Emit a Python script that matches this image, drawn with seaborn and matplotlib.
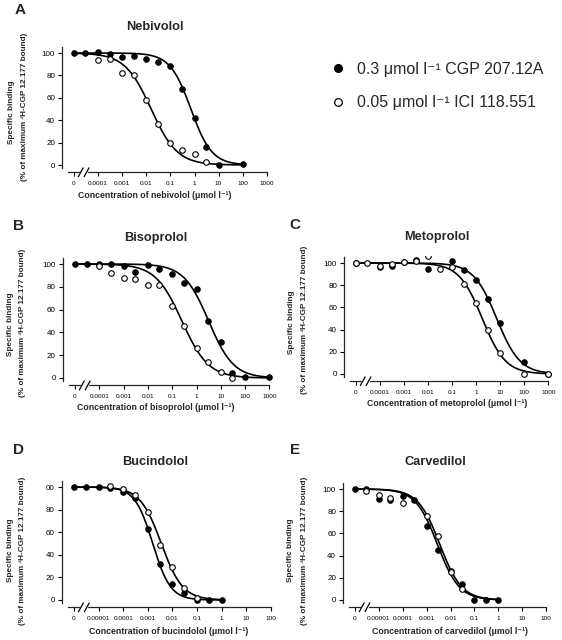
import matplotlib
matplotlib.use("Agg")
import matplotlib.pyplot as plt
import matplotlib.transforms as mtransforms
from matplotlib.lines import Line2D
import seaborn as sns
import pandas as pd
import numpy as np

sns.set_theme(style="ticks")
plt.rcParams['font.family'] = ['Liberation Sans', 'DejaVu Sans']

# ---------------------------------------------------------------------------
# data (concentration in umol/l, binding in %)
# ---------------------------------------------------------------------------
neb_filled_conc = [0, 3e-5, 1e-4, 3e-4, 1e-3, 3e-3, 1e-2, 3e-2, 0.1, 0.3, 1, 3, 10, 100]
neb_filled_val = [100, 100, 101, 99, 96, 97, 95, 92, 88, 68, 42, 16, 0, 0.5]
neb_open_conc = [1e-4, 3e-4, 1e-3, 3e-3, 1e-2, 3e-2, 0.1, 0.3, 1, 3]
neb_open_val = [94, 95, 82, 80, 58, 37, 20, 13, 10, 3]

bis_filled_conc = [0, 3e-5, 1e-4, 3e-4, 1e-3, 3e-3, 1e-2, 3e-2, 0.1, 0.3, 1, 3, 10, 30, 100, 1000]
bis_filled_val = [100, 100, 100, 100, 98, 93, 99, 96, 91, 83, 78, 50, 32, 4, 0.5, 0.5]
bis_open_conc = [1e-4, 3e-4, 1e-3, 3e-3, 1e-2, 3e-2, 0.1, 0.3, 1, 3, 10, 30]
bis_open_val = [98, 92, 88, 87, 82, 82, 63, 46, 26, 14, 5, 0]

met_filled_conc = [0, 1e-4, 3e-4, 1e-3, 3e-3, 1e-2, 0.1, 0.3, 1, 3, 10, 100, 1000]
met_filled_val = [100, 96, 97, 101, 103, 95, 102, 94, 85, 68, 46, 11, 0]
met_open_conc = [0, 3e-5, 1e-4, 3e-4, 1e-3, 3e-3, 1e-2, 3e-2, 0.1, 0.3, 1, 3, 10, 100, 1000]
met_open_val = [100, 100, 97, 99, 101, 102, 106, 95, 96, 81, 64, 40, 19, 0, 0]

buc_filled_conc = [0, 3e-6, 1e-5, 3e-5, 1e-4, 3e-4, 1e-3, 3e-3, 1e-2, 3e-2, 0.1, 0.3, 1]
buc_filled_val = [100, 100, 100, 99, 96, 90, 63, 32, 14, 6, 0, 0, 0]
buc_open_conc = [3e-5, 1e-4, 3e-4, 1e-3, 3e-3, 1e-2, 3e-2, 0.1]
buc_open_val = [101, 98, 93, 78, 49, 29, 11, 2]

car_filled_conc = [0, 3e-6, 1e-5, 3e-5, 1e-4, 3e-4, 1e-3, 3e-3, 1e-2, 3e-2, 0.1, 0.3, 1]
car_filled_val = [100, 100, 91, 90, 94, 90, 67, 45, 26, 14, 0, 0, 0]
car_open_conc = [3e-6, 1e-5, 3e-5, 1e-4, 1e-3, 3e-3, 1e-2, 3e-2]
car_open_val = [98, 95, 92, 87, 76, 58, 25, 10]

# fitted curves: log10 IC50 and Hill slope (filled, open) + last concentration drawn
neb_fit = [(-0.15, 1.0), (-1.8, 0.8)]
bis_fit = [(0.5, 0.85), (-0.6, 0.8)]
met_fit = [(0.85, 0.9), (0.25, 0.9)]
buc_fit = [(-2.8, 1.2), (-2.45, 1.0)]
car_fit = [(-2.55, 0.95), (-2.45, 0.95)]
curve_end = {"neb": 100, "bis": 1000, "met": 1000, "buc": 1, "car": 1}

ticks_a = ["0", "0.0001", "0.001", "0.01", "0.1", "1", "10", "100", "1000"]
ticks_b = ["0", "0.00001", "0.0001", "0.001", "0.01", "0.1", "1", "10", "100"]

legend_labels = ["0.3 \u03bcmol l\u207b\u00b9 CGP 207.12A", "0.05 \u03bcmol l\u207b\u00b9 ICI 118.551"]
ylab1 = "Specific binding"
ylab2 = "(% of maximum \u00b3H-CGP 12.177 bound)"

W, H = 562, 640
fig = plt.figure(figsize=(W / 100, H / 100), dpi=100)
fig.patch.set_facecolor("white")


def fx(x):
    return x / W


def fy(y):
    return 1 - y / H


def to_pos(conc, zero_pos):
    return [np.log10(c) if c > 0 else zero_pos for c in conc]


def make_panel(x0, dec, y0, y100, zero_pos, last, ticklabels, filled, opn, fits, end_conc, ytick_first):
    k = (y0 - y100) / 100.0
    left = x0 - 0.5 * dec
    right = x0 + (last + 0.1 - zero_pos) * dec
    top = y0 - 106 * k
    bottom = y0 + 6.5 * k
    ax = fig.add_axes([fx(left), fy(bottom), fx(right - left), (bottom - top) / H])
    ax.set_xlim(zero_pos - 0.5, last + 0.1)
    ax.set_ylim(-6.5, 106)
    ax.set_facecolor("white")

    # fitted curves
    xs = np.linspace(zero_pos, np.log10(end_conc), 300)
    for (c, h) in fits:
        ys = 100.0 / (1 + 10 ** (h * (xs - c)))
        sns.lineplot(x=xs, y=ys, ax=ax, color="black", linewidth=1.2, zorder=2)

    fdf = pd.DataFrame({"x": to_pos(filled[0], zero_pos), "y": filled[1]})
    odf = pd.DataFrame({"x": to_pos(opn[0], zero_pos), "y": opn[1]})
    sns.scatterplot(data=fdf, x="x", y="y", ax=ax, color="black", edgecolor="black",
                    s=16, linewidth=0.7, zorder=3)
    sns.scatterplot(data=odf, x="x", y="y", ax=ax, color="white", edgecolor="black",
                    s=16, linewidth=0.8, zorder=4)

    ax.set_xlabel("")
    ax.set_ylabel("")
    ax.set_xticks(list(range(zero_pos, last + 1)))
    ax.set_xticklabels(ticklabels, fontsize=4.6)
    ax.set_yticks([0, 20, 40, 60, 80, 100])
    ax.set_yticklabels([ytick_first if v == 100 else str(v) for v in [0, 20, 40, 60, 80, 100]],
                       fontsize=5.8)
    ax.tick_params(direction="out", length=3, width=0.8, pad=2, colors="black")
    ax.tick_params(axis="x", pad=3)
    for s in ["top", "right"]:
        ax.spines[s].set_visible(False)
    ax.spines["left"].set_bounds(-2.7, 105.4)
    ax.spines["bottom"].set_bounds(zero_pos - 0.25, last)
    ax.spines["left"].set_linewidth(0.9)
    ax.spines["bottom"].set_linewidth(0.9)

    # axis break "//"
    tr = mtransforms.blended_transform_factory(ax.transData, ax.transAxes)
    ax.plot([zero_pos + 0.3, zero_pos + 0.5], [0, 0], transform=tr, color="white",
            lw=2.5, clip_on=False, zorder=5)
    for b in [zero_pos + 0.28, zero_pos + 0.52]:
        ax.plot([b - 0.1, b + 0.1], [-0.035, 0.035], transform=tr, color="black",
                lw=0.9, clip_on=False, zorder=6)
    return ax


def panel_text(letter, lxy, title, txy, xlabel, xxy, y1, y2):
    fig.text(fx(lxy[0]), fy(lxy[1]), letter, fontsize=11, fontweight="bold", ha="center", va="center")
    fig.text(fx(txy[0]), fy(txy[1]), title, fontsize=9.2, fontweight="bold", ha="center", va="center")
    fig.text(fx(xxy[0]), fy(xxy[1]), xlabel, fontsize=6.3, fontweight="bold", ha="center", va="center")
    fig.text(fx(y1[0]), fy(y1[1]), ylab1, fontsize=5.9, fontweight="bold", ha="center", va="center",
             rotation=90)
    fig.text(fx(y2[0]), fy(y2[1]), ylab2, fontsize=5.9, fontweight="bold", ha="center", va="center",
             rotation=90)


# A - nebivolol
make_panel(74, 24.1, 165, 53, -5, 3, ticks_a, (neb_filled_conc, neb_filled_val),
           (neb_open_conc, neb_open_val), neb_fit, curve_end["neb"], "100")
panel_text("A", (20, 10), "Nebivolol", (155, 27), "Concentration of nebivolol (\u03bcmol l\u207b\u00b9)",
           (155, 195), (12, 112), (25, 107))

# B - bisoprolol
make_panel(75, 24.3, 378, 264, -5, 3, ticks_a, (bis_filled_conc, bis_filled_val),
           (bis_open_conc, bis_open_val), bis_fit, curve_end["bis"], "100")
panel_text("B", (18, 226), "Bisoprolol", (156, 238), "Concentration of bisoprolol (\u03bcmol l\u207b\u00b9)",
           (156, 408), (10, 324), (23, 323))

# C - metoprolol
make_panel(356, 24.05, 374, 263, -5, 3, ticks_a, (met_filled_conc, met_filled_val),
           (met_open_conc, met_open_val), met_fit, curve_end["met"], "100")
panel_text("C", (295, 225), "Metoprolol", (437, 237), "Concentration of metoprolol (\u03bcmol l\u207b\u00b9)",
           (447, 403), (291, 322), (304, 320))

# D - bucindolol
make_panel(74, 24.6, 600, 487, -6, 2, ticks_b, (buc_filled_conc, buc_filled_val),
           (buc_open_conc, buc_open_val), buc_fit, curve_end["buc"], "00")
panel_text("D", (18, 450), "Bucindolol", (155, 462), "Concentration of bucindolol (\u03bcmol l\u207b\u00b9)",
           (169, 632), (10, 550), (23, 551))

# E - carvedilol
make_panel(355, 23.9, 600, 489, -6, 2, ticks_b, (car_filled_conc, car_filled_val),
           (car_open_conc, car_open_val), car_fit, curve_end["car"], "100")
panel_text("E", (295, 450), "Carvedilol", (435, 462), "Concentration of carvedilol (\u03bcmol l\u207b\u00b9)",
           (450, 631), (290, 550), (304, 551))

# legend
handles = [Line2D([], [], linestyle="none", marker="o", markersize=5.5, markerfacecolor="black",
                  markeredgecolor="black"),
           Line2D([], [], linestyle="none", marker="o", markersize=5.5, markerfacecolor="white",
                  markeredgecolor="black", markeredgewidth=0.9)]
fig.legend(handles, legend_labels, loc="center left", bbox_to_anchor=(fx(322), fy(86)),
           frameon=False, fontsize=11.5, handletextpad=0.6, labelspacing=1.15,
           handlelength=1.2, borderaxespad=0)

fig.savefig("out.png", dpi=100, facecolor="white")
